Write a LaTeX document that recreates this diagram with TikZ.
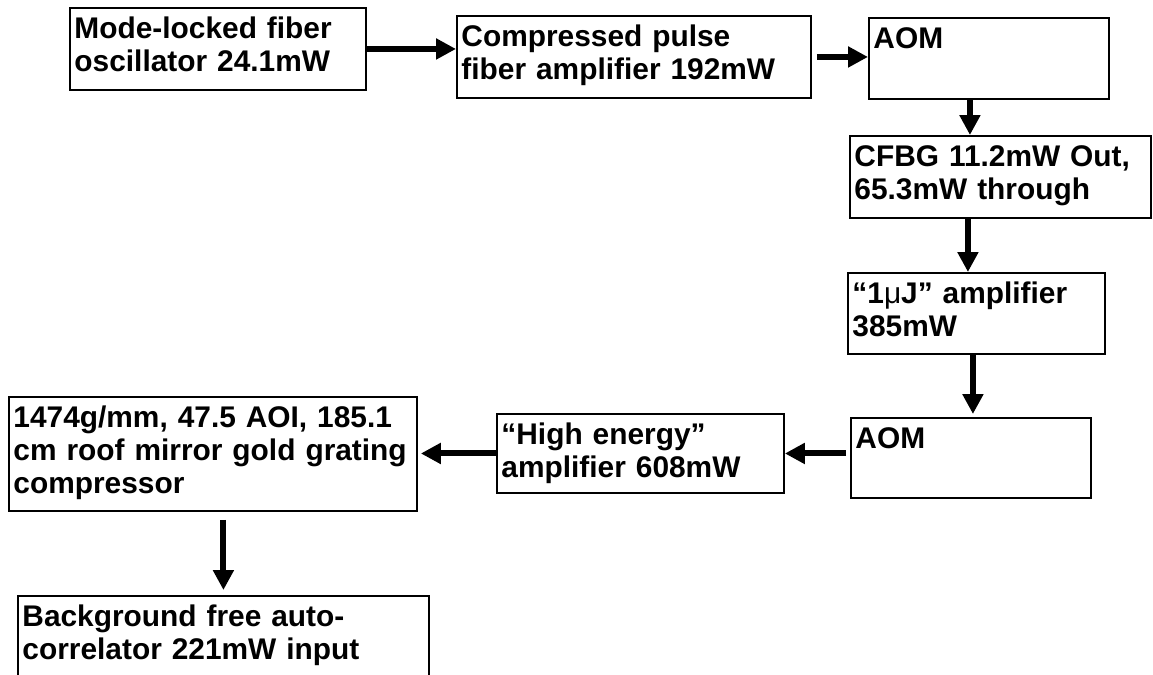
\documentclass[tikz,border=0pt]{standalone}
\usepackage{fontspec}
\setmainfont{Liberation Sans}
\usepackage{tikz}
\usetikzlibrary{arrows.meta, positioning, calc}

\begin{document}
\begin{tikzpicture}[
    x=0.02cm, y=-0.02cm,
    blockbox/.style={draw, line width=1.1pt, anchor=north west, align=left,
                 inner xsep=0.09cm, inner ysep=0.18cm, text height=0.43cm,
                 font=\fontsize{17}{18.8}\selectfont\bfseries},
    flow/.style={-{Triangle[length=0.4cm, width=0.4cm]}, line width=0.12cm}
]
    \clip (0,0) rectangle (1153,674);

    \node[blockbox, text width=5.74cm, text depth=0.85cm] (osc) at (69,7) {
        Mode-locked fiber\\
        oscillator 24.1mW
    };

    \node[blockbox, text width=6.90cm, text depth=0.85cm] (pulseamp) at (456,15) {
        Compressed pulse\\
        fiber amplifier 192mW
    };

    \node[blockbox, text width=4.62cm, text depth=0.83cm] (aomA) at (868,17) {
        AOM
    };

    \node[blockbox, text width=5.84cm, text depth=0.85cm] (cfbg) at (849,135) {
        CFBG 11.2mW Out,\\
        65.3mW through
    };

    \node[blockbox, text width=4.96cm, text depth=0.83cm] (ujamp) at (847,272) {
        “1{\mdseries μ}J” amplifier\\
        385mW
    };

    \node[blockbox, text width=4.62cm, text depth=0.81cm] (aomB) at (850,417) {
        AOM
    };

    \node[blockbox, text width=5.56cm, text depth=0.79cm] (highamp) at (496,413) {
        “High energy”\\
        amplifier 608mW
    };

    \node[blockbox, text width=7.98cm, text depth=1.49cm] (grating) at (8,396) {
        1474g/mm, 47.5 AOI, 185.1\\
        cm roof mirror gold grating\\
        compressor
    };

    \node[blockbox, text width=8.04cm, text depth=0.85cm] (autocorr) at (17,595) {
        Background free auto-\\
        correlator 221mW input
    };

    % Arrows
    \draw[flow] (osc.east) -- (osc.east -| pulseamp.west);
    \draw[flow, shorten <=0.1cm] (pulseamp.east) -- (pulseamp.east -| aomA.west);
    \draw[flow] ([xshift=-0.38cm]aomA.south) -- ([xshift=-0.38cm]aomA.south |- cfbg.north);
    \draw[flow] ([xshift=-0.65cm]cfbg.south) -- ([xshift=-0.65cm]cfbg.south |- ujamp.north);
    \draw[flow, shorten >=0.06cm] ([xshift=-0.07cm]ujamp.south) -- ([xshift=-0.07cm]ujamp.south |- aomB.north);
    \draw[flow, shorten <=0.08cm] (highamp.east -| aomB.west) -- (highamp.east);
    \draw[flow, shorten >=0.06cm] (highamp.west) -- (highamp.west -| grating.east);
    \draw[flow, shorten <=0.16cm, shorten >=0.1cm] (autocorr.north |- grating.south) -- (autocorr.north);
\end{tikzpicture}
\end{document}
